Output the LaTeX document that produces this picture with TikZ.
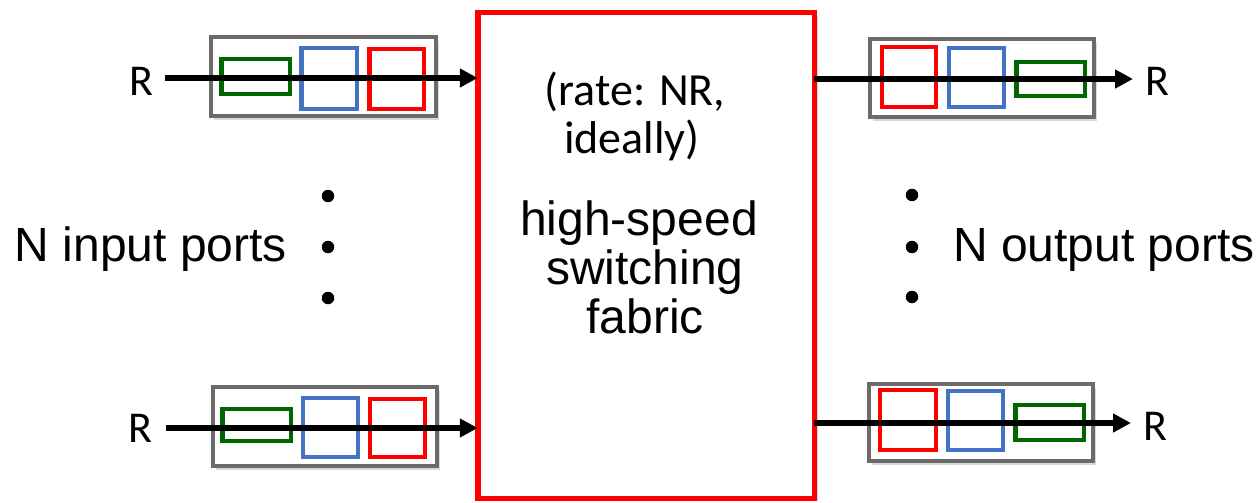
\documentclass[tikz,border=0pt]{standalone}
\usepackage{fontspec}
\setmainfont{Liberation Sans}
\newfontfamily\calib{Carlito}
\usetikzlibrary{shadows,arrows.meta}
\definecolor{qred}{HTML}{FF0000}
\definecolor{qblue}{HTML}{4472C4}
\definecolor{qgreen}{HTML}{006600}
\definecolor{qgray}{HTML}{6B6B6B}
\begin{document}
\begin{tikzpicture}[x=1pt,y=-1pt,
  portbox/.style={draw=qgray,line width=4pt,fill=white,inner sep=0pt,outer sep=0pt,
    drop shadow={shadow xshift=3pt,shadow yshift=-4pt,opacity=0.3}},
  pkt/.style={line width=4.5pt,inner sep=0pt,outer sep=0pt},
  gpkt/.style={pkt,draw=qgreen},
  bpkt/.style={pkt,draw=qblue},
  rpkt/.style={pkt,draw=qred},
  fabricbox/.style={draw=qred,line width=5.5pt,fill=white,inner sep=0pt,outer sep=0pt,
    drop shadow={shadow xshift=4pt,shadow yshift=-3pt,opacity=0.3}},
  flow/.style={line width=6pt,-{Triangle[length=18pt,width=18pt]}},
  rlab/.style={font=\fontsize{44}{50}\selectfont\calib,inner sep=0pt},
  ratelab/.style={font=\fontsize{46}{50}\selectfont\calib,inner sep=0pt,anchor=base},
  biglab/.style={font=\fontsize{48}{50}\selectfont,inner sep=0pt,anchor=base},
  dot/.style={circle,fill=black,inner sep=0pt,minimum size=12.5pt}
]
\useasboundingbox (0,0) rectangle (1258,503);

% fabric
\node[fabricbox,minimum width=336.5,minimum height=485.5] (fabric) at (646,255.5) {};
\node[ratelab] (rate1) at (635,105) {(rate: NR,};
\node[ratelab] (rate2) at (632,153) {ideally)};
\node[biglab] (hs) at (639,235) {high-speed};
\node[biglab] (sw) at (645,284) {switching};
\node[biglab] (fb) at (645,333) {fabric};

% input port 1
\node[portbox,minimum width=225,minimum height=79] (in1) at (323.5,76.5) {};
\node[gpkt,minimum width=68.5,minimum height=34.5] (in1g) at (255.5,76.5) {};
\node[bpkt,minimum width=55.5,minimum height=60.5] (in1b) at (329,78.5) {};
\node[rpkt,minimum width=54.5,minimum height=59.5] (in1r) at (396.5,79) {};
\node[rlab] (rin1) at (141,81) {R};
\coordinate (a1) at (165,78);
\draw[flow] (a1) -- (a1 -| fabric.west);

% input port 2
\node[portbox,minimum width=224,minimum height=79] (in2) at (325,426.5) {};
\node[gpkt,minimum width=68.5,minimum height=32] (in2g) at (256.5,425) {};
\node[bpkt,minimum width=55,minimum height=59] (in2b) at (330.5,427.5) {};
\node[rpkt,minimum width=55,minimum height=58] (in2r) at (397.5,428) {};
\node[rlab] (rin2) at (140,428) {R};
\coordinate (a2) at (166,428);
\draw[flow] (a2) -- (a2 -| fabric.west);

% output port 1
\node[portbox,minimum width=224,minimum height=78] (out1) at (982,78) {};
\node[rpkt,minimum width=54,minimum height=60] (out1r) at (909,77) {};
\node[bpkt,minimum width=55,minimum height=59] (out1b) at (976.5,77.5) {};
\node[gpkt,minimum width=68.5,minimum height=34] (out1g) at (1050.5,79) {};
\node[rlab] (rout1) at (1157,81) {R};
\coordinate (b1) at (1133,79);
\draw[flow] (fabric.east |- b1) -- (b1);

% output port 2
\node[portbox,minimum width=224,minimum height=77] (out2) at (981,422.5) {};
\node[rpkt,minimum width=56,minimum height=60] (out2r) at (908,420) {};
\node[bpkt,minimum width=55,minimum height=59] (out2b) at (975.5,420.5) {};
\node[gpkt,minimum width=68.5,minimum height=35] (out2g) at (1049.5,422.5) {};
\node[rlab] (rout2) at (1155,426) {R};
\coordinate (b2) at (1131,423);
\draw[flow] (fabric.east |- b2) -- (b2);

% side labels and dots
\node[biglab] (nin) at (151,261) {N input ports};
\node[biglab] (nout) at (1104,261) {N output ports};
\node[dot] (ld1) at (328,196) {};
\node[dot] (ld2) at (328,247) {};
\node[dot] (ld3) at (328,298) {};
\node[dot] (rd1) at (912,195) {};
\node[dot] (rd2) at (912,247) {};
\node[dot] (rd3) at (912,297) {};
\end{tikzpicture}
\end{document}
